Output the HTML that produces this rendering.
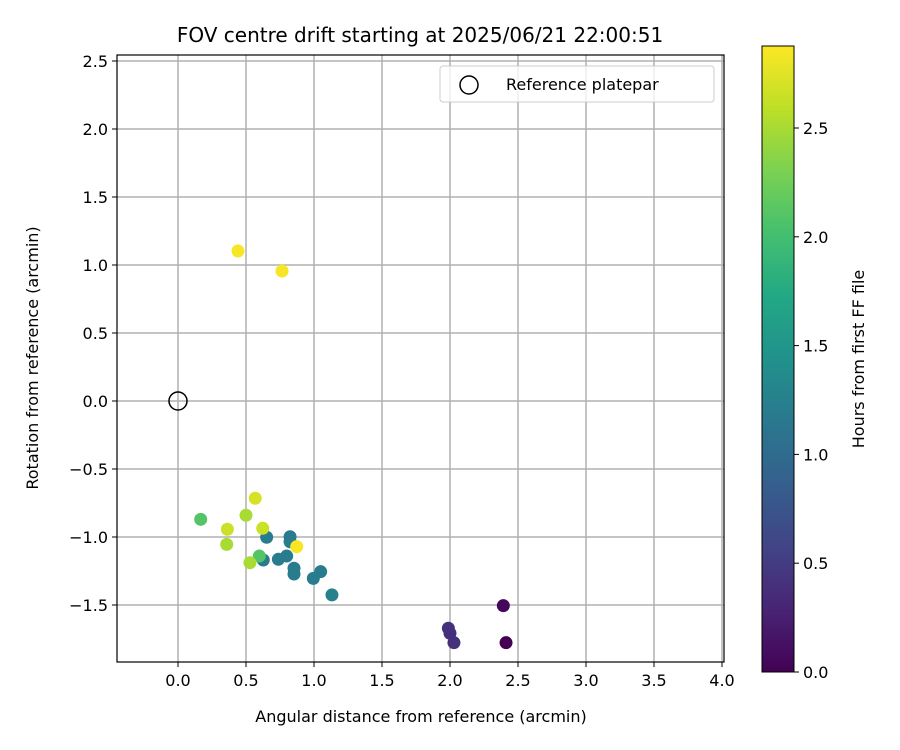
<!DOCTYPE html>
<html><head><meta charset="utf-8"><style>
body{margin:0;background:#fff;}
svg{display:block;font-family:"DejaVu Sans","Liberation Sans",sans-serif;}
</style></head><body>
<svg id="c" width="900" height="750" viewBox="0 0 900 750" xmlns="http://www.w3.org/2000/svg">
<defs>
<linearGradient id="vir" x1="0" y1="1" x2="0" y2="0">
<stop offset="0" stop-color="#440154"/><stop offset="0.1" stop-color="#482475"/><stop offset="0.2" stop-color="#414487"/><stop offset="0.3" stop-color="#355f8d"/><stop offset="0.4" stop-color="#2a788e"/><stop offset="0.5" stop-color="#21918c"/><stop offset="0.6" stop-color="#22a884"/><stop offset="0.7" stop-color="#44bf70"/><stop offset="0.8" stop-color="#7ad151"/><stop offset="0.9" stop-color="#bddf26"/><stop offset="1" stop-color="#fde725"/>
</linearGradient>
</defs>
<text x="420" y="42" font-size="20" text-anchor="middle">FOV centre drift starting at 2025/06/21 22:00:51</text>
<g id="grid"></g>
<g id="pts"></g>
<rect x="117" y="55" width="607" height="607" fill="none" stroke="#000" stroke-width="1.2"/>
<g id="ticks"></g>
<text x="421" y="722" font-size="16" text-anchor="middle">Angular distance from reference (arcmin)</text>
<text transform="translate(38,358) rotate(-90)" font-size="16" text-anchor="middle">Rotation from reference (arcmin)</text>
<g>
<rect x="440" y="66" width="274" height="36" rx="3" fill="#fff" fill-opacity="0.8" stroke="#ccc"/>
<circle cx="469" cy="85" r="9" fill="none" stroke="#000" stroke-width="1.5"/>
<text x="506" y="90" font-size="16">Reference platepar</text>
</g>
<rect x="762" y="46" width="32" height="626" fill="url(#vir)" stroke="#000" stroke-width="1"/>
<g id="cbt"></g>
<text transform="translate(864,359) rotate(-90)" font-size="16" text-anchor="middle">Hours from first FF file</text>
</svg>
<script>
const xVals=[0.167,0.568,0.50,0.363,0.358,0.623,0.652,0.824,0.824,0.873,0.598,0.627,0.529,0.738,0.799,0.853,0.853,0.995,1.049,1.132,2.392,1.988,2.0,2.029,2.412,0.441,0.765];
const yVals=[-0.870,-0.715,-0.840,-0.943,-1.054,-0.936,-1.002,-0.998,-1.035,-1.071,-1.140,-1.169,-1.189,-1.164,-1.140,-1.230,-1.272,-1.304,-1.255,-1.426,-1.505,-1.671,-1.708,-1.777,-1.777,1.103,0.956];
const hours=[2.1,2.7,2.5,2.65,2.5,2.65,1.2,1.2,1.2,2.85,2.1,1.2,2.5,1.2,1.2,1.2,1.2,1.2,1.2,1.25,0.05,0.4,0.4,0.4,0.0,2.85,2.85];
const xTicks=[0.0,0.5,1.0,1.5,2.0,2.5,3.0,3.5,4.0];
const yTicks=[-1.5,-1.0,-0.5,0.0,0.5,1.0,1.5,2.0,2.5];
const cbTicks=[0.0,0.5,1.0,1.5,2.0,2.5];
const refX=0,refY=0;
const NS="http://www.w3.org/2000/svg";
const X=v=>178+v*136, Y=v=>401-v*136, CB=v=>672-v*217.6;
const cmap=["#440154","#482475","#414487","#355f8d","#2a788e","#21918c","#22a884","#44bf70","#7ad151","#bddf26","#fde725"];
function hex(h){return [1,3,5].map(i=>parseInt(h.substr(i,2),16));}
function vir(t){t=Math.max(0,Math.min(1,t))*10;const i=Math.min(9,Math.floor(t)),f=t-i;const a=hex(cmap[i]),b=hex(cmap[i+1]);return "rgb("+a.map((v,k)=>Math.round(v+(b[k]-v)*f)).join(",")+")";}
function mk(tag,attrs,parent,txt){const e=document.createElementNS(NS,tag);for(const k in attrs)e.setAttribute(k,attrs[k]);if(txt!==undefined)e.textContent=txt;document.getElementById(parent).appendChild(e);return e;}
const hmax=2.877;
xTicks.forEach(t=>{
 const l=mk("line",{x1:X(t),x2:X(t),y1:55,y2:662,stroke:"#b0b0b0","stroke-width":1.5},"grid");
 
 
 const k=mk("line",{x1:X(t),x2:X(t),y1:662,y2:667,stroke:"#000"},"ticks");
 
 
 const s=mk("text",{x:X(t),y:686,"font-size":16,"text-anchor":"middle"},"ticks",t.toFixed(1));
 
 
});
yTicks.forEach(t=>{
 const l=mk("line",{x1:117,x2:724,y1:Y(t),y2:Y(t),stroke:"#b0b0b0","stroke-width":1.5},"grid");
 
 
 const k=mk("line",{x1:112,x2:117,y1:Y(t),y2:Y(t),stroke:"#000"},"ticks");
 
 
 const s=mk("text",{x:108,y:Y(t)+6,"font-size":16,"text-anchor":"end"},"ticks",(t<0?"\u2212":"")+Math.abs(t).toFixed(1));
 
 
});
cbTicks.forEach(t=>{
 const k=mk("line",{x1:794,x2:799,y1:CB(t),y2:CB(t),stroke:"#000"},"cbt");
 
 
 const s=mk("text",{x:803,y:CB(t)+6,"font-size":16},"cbt",t.toFixed(1));
 
 
});
const idx=xVals.map((_,i)=>i).sort((a,b)=>hours[a]-hours[b]);
idx.forEach(i=>{
 const c=mk("circle",{cx:X(xVals[i]),cy:Y(yVals[i]),r:6.5,fill:vir(hours[i]/hmax)},"pts");
 
 
});
const r=mk("circle",{cx:X(refX),cy:Y(refY),r:9,fill:"none",stroke:"#000","stroke-width":1.5},"pts");


</script>
</body></html>
